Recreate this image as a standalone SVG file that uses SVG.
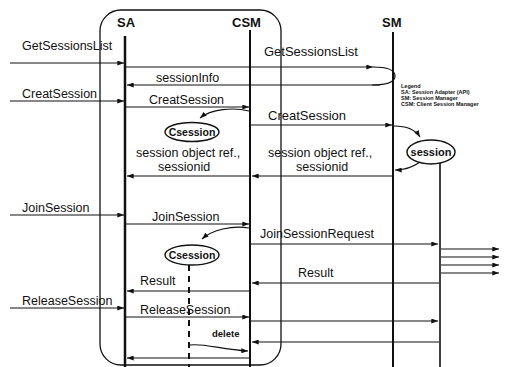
<svg xmlns="http://www.w3.org/2000/svg" width="506" height="367" viewBox="0 0 506 367">
<defs>
<marker id="ah" viewBox="0 0 8 6" refX="8" refY="3" markerWidth="7" markerHeight="5" orient="auto" markerUnits="userSpaceOnUse"><path d="M0,0 L8,3 L0,6 z" fill="#111"/></marker>
</defs>
<style>
text{font-family:"Liberation Sans",Arial,sans-serif;fill:#111}
.lb{font-size:12.5px}
.rl{font-size:13px}
.hd{font-size:13px;font-weight:bold}
.ov{font-size:10.5px;font-weight:bold}
.lg{font-size:5.5px;font-weight:bold}
.ln{fill:none;stroke:#111;stroke-width:1.2}
.ar{fill:none;stroke:#111;stroke-width:1.2;marker-end:url(#ah)}
.life{stroke:#111;fill:none}
.el{fill:#fff;stroke:#111;stroke-width:1.4}
</style>
<rect width="506" height="367" fill="#fff"/>
<g id="csm-box"><rect x="100" y="10" width="181" height="355" rx="21" ry="21" fill="none" stroke="#111" stroke-width="1.3"/></g>
<g id="SA"><text class="hd" x="117" y="27">SA</text><line class="life" x1="125" y1="36" x2="125" y2="367" stroke-width="2.5"/></g>
<g id="CSM"><text class="hd" x="232" y="27">CSM</text><line class="life" x1="250" y1="30" x2="250" y2="367" stroke-width="2"/></g>
<g id="SM"><text class="hd" x="382" y="27">SM</text><line class="life" x1="393" y1="32" x2="393" y2="367" stroke-width="2"/></g>
<g id="session"><line class="life" x1="440" y1="163" x2="440" y2="367" stroke-width="1.6"/><ellipse class="el" cx="431" cy="152" rx="24" ry="12"/><text x="431" y="156" text-anchor="middle" font-size="11" font-weight="bold">session</text></g>
<g id="csession1"><ellipse class="el" cx="192" cy="132" rx="27" ry="9.5"/><text class="ov" x="192" y="136" text-anchor="middle">Csession</text></g>
<g id="csession2"><line x1="189" y1="265" x2="189" y2="367" stroke="#111" stroke-width="2" stroke-dasharray="6,5"/><ellipse class="el" cx="192" cy="255" rx="27" ry="10"/><text class="ov" x="192" y="259" text-anchor="middle">Csession</text></g>
<g id="legend">
<text class="lg" x="401" y="88">Legend</text>
<text class="lg" x="401" y="94">SA: Session Adapter (API)</text>
<text class="lg" x="401" y="100">SM: Session Manager</text>
<text class="lg" x="401" y="106">CSM: Client Session Manager</text>
</g>
<g id="connectors">
<path class="ar" d="M10,63 H124"/>
<path class="ar" d="M126,67 H373"/>
<path class="ln" d="M373,67 C389,67 395,71 395,76 C395,81 389,85 372,85"/>
<path class="ar" d="M380,85 H127"/>
<path class="ar" d="M10,101 H124"/>
<path class="ar" d="M126,107 H249"/>
<path class="ar" d="M249,111 C233,107 211,109 200,118"/>
<path class="ar" d="M251,125 H392"/>
<path class="ar" d="M394,126 C407,126 415,129 420,137"/>
<path class="ar" d="M420,162 C413,167 405,170 395,170"/>
<path class="ar" d="M392,176 H252"/>
<path class="ar" d="M249,176 H127"/>
<path class="ar" d="M10,215 H124"/>
<path class="ar" d="M126,224 H249"/>
<path class="ar" d="M249,228 C232,225 212,230 202,239"/>
<path class="ar" d="M251,244 H438"/>
<path class="ar" d="M441,249 H499"/>
<path class="ar" d="M441,257 H499"/>
<path class="ar" d="M441,265 H499"/>
<path class="ar" d="M441,273 H499"/>
<path class="ar" d="M439,283 H252"/>
<path class="ar" d="M249,291 H127"/>
<path class="ar" d="M10,308 H124"/>
<path class="ar" d="M126,317 H249"/>
<path class="ar" d="M251,321 H438"/>
<path class="ar" d="M439,342 H252"/>
<path class="ar" d="M190,345 C205,343 222,350 248,351"/>
<path class="ar" d="M249,358 H127"/>
</g>
<g id="labels">
<text class="lb" x="22" y="50">GetSessionsList</text>
<text class="rl" x="264" y="56">GetSessionsList</text>
<text class="lb" x="156" y="82">sessionInfo</text>
<text class="lb" x="22" y="98">CreatSession</text>
<text class="lb" x="149" y="104">CreatSession</text>
<text class="rl" x="268" y="120">CreatSession</text>
<text class="lb" x="136" y="157">session object ref.,</text>
<text class="lb" x="158" y="171">sessionid</text>
<text class="lb" x="268" y="157">session object ref.,</text>
<text class="lb" x="296" y="171">sessionid</text>
<text class="lb" x="22" y="212">JoinSession</text>
<text class="lb" x="152" y="221">JoinSession</text>
<text class="lb" x="260" y="238">JoinSessionRequest</text>
<text class="lb" x="298" y="277">Result</text>
<text class="lb" x="140" y="285">Result</text>
<text class="lb" x="22" y="305">ReleaseSession</text>
<text class="lb" x="140" y="314">ReleaseSession</text>
<text x="212" y="337" font-size="9.5" font-weight="bold">delete</text>
</g>
</svg>
